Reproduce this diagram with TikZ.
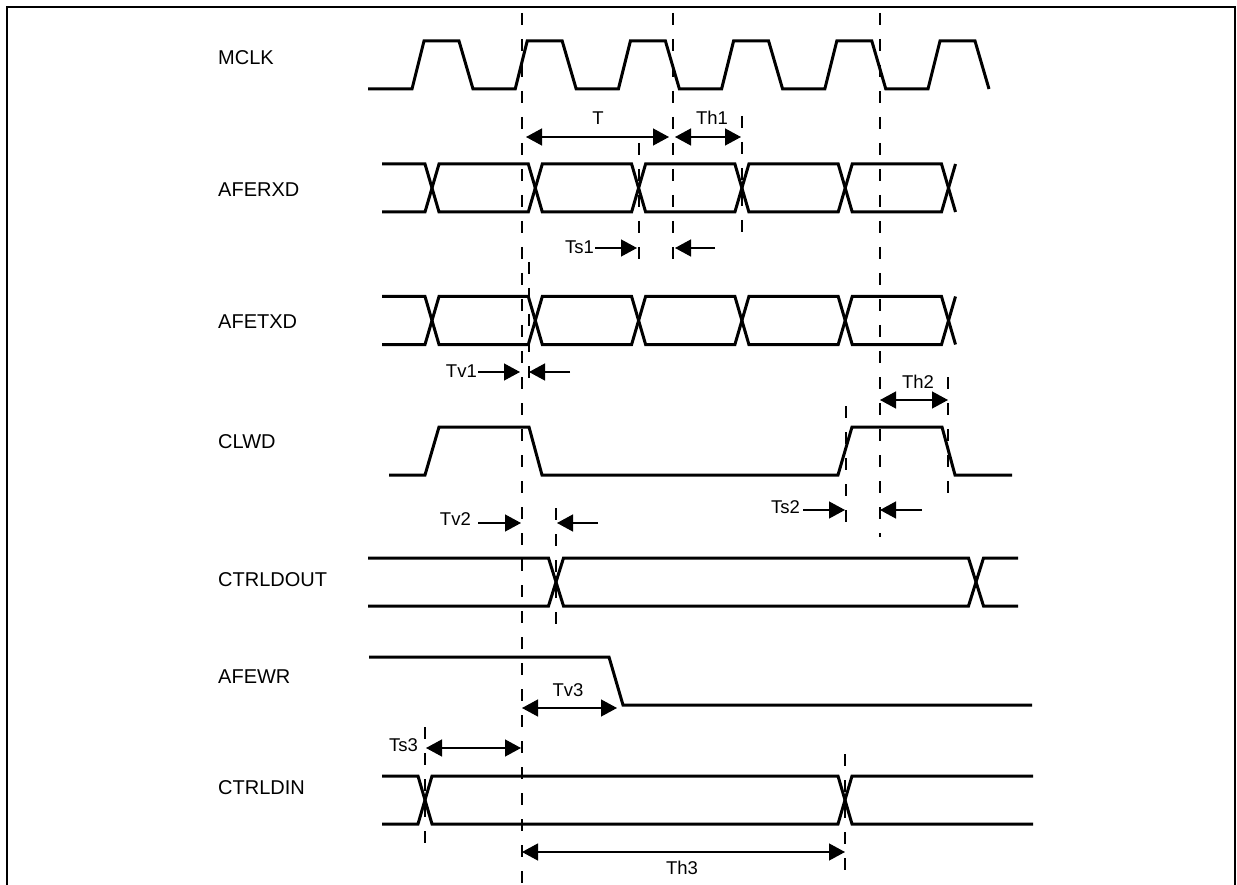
\documentclass[tikz,border=0pt]{standalone}
\usepackage{fontspec}
\setmainfont{Liberation Sans}
\usetikzlibrary{arrows.meta}
\newcommand\drawbusrow[1]{%
  \draw[sig] (382,#1) -- (425,#1) -- (439,{#1+48}) -- (528.3,{#1+48}) -- (542.3,#1) -- (631.6,#1) -- (645.6,{#1+48}) -- (734.9,{#1+48}) -- (748.9,#1) -- (838.2,#1) -- (852.2,{#1+48}) -- (941.5,{#1+48}) -- (955.5,#1);
  \draw[sig] (382,{#1+48}) -- (425,{#1+48}) -- (439,#1) -- (528.3,#1) -- (542.3,{#1+48}) -- (631.6,{#1+48}) -- (645.6,#1) -- (734.9,#1) -- (748.9,{#1+48}) -- (838.2,{#1+48}) -- (852.2,#1) -- (941.5,#1) -- (955.5,{#1+48});
}
\begin{document}
\begin{tikzpicture}[x=1pt,y=-1pt,
  sig/.style={line width=3pt,line join=miter},
  guide/.style={line width=2pt,dash pattern=on 12pt off 14pt},
  dim/.style={line width=1.3pt,-{Triangle[length=16pt,width=17pt]}},
  dimboth/.style={line width=1.3pt,{Triangle[length=16pt,width=17pt]}-{Triangle[length=16pt,width=17pt]}},
  lbl/.style={font=\fontsize{20}{22}\selectfont,anchor=west,inner sep=0pt},
  tlbl/.style={font=\fontsize{18.5}{21}\selectfont,inner sep=0pt},
]
\useasboundingbox (0,0) rectangle (1237,885);
% frame
\draw[line width=2pt] (7,885) -- (7,7) -- (1235,7) -- (1235,885);

% signal names
\node[lbl] (nMCLK) at (218,58) {MCLK};
\node[lbl] (nAFERXD) at (218,190) {AFERXD};
\node[lbl] (nAFETXD) at (218,322) {AFETXD};
\node[lbl] (nCLWD) at (218,442) {CLWD};
\node[lbl] (nCTRLDOUT) at (218,580) {CTRLDOUT};
\node[lbl] (nAFEWR) at (218,677) {AFEWR};
\node[lbl] (nCTRLDIN) at (218,788) {CTRLDIN};

% MCLK
\draw[sig] (368,89) foreach \k in {0,...,5} { -- ({412+103.2*\k},89) -- ({424+103.2*\k},41) -- ({459+103.2*\k},41) -- ({473+103.2*\k},89) };

% AFERXD, AFETXD
\drawbusrow{164}
\drawbusrow{296.5}

% CLWD
\draw[sig] (389,475) -- (425,475) -- (439,427) -- (529,427) -- (542,475) -- (838,475) -- (852,427) -- (942,427) -- (955,475) -- (1012,475);

% CTRLDOUT
\draw[sig] (368,558) -- (548.5,558) -- (563.5,606) -- (968.5,606) -- (983.5,558) -- (1018,558);
\draw[sig] (368,606) -- (548.5,606) -- (563.5,558) -- (968.5,558) -- (983.5,606) -- (1018,606);

% AFEWR
\draw[sig] (369,657) -- (609,657) -- (623,705) -- (1032,705);

% CTRLDIN
\draw[sig] (382,776) -- (418,776) -- (432,824) -- (838,824) -- (852,776) -- (1033,776);
\draw[sig] (382,824) -- (418,824) -- (432,776) -- (838,776) -- (852,824) -- (1033,824);

% long guides
\draw[guide] (522,13) -- (522,885);
\draw[guide] (673,13) -- (673,262);
\draw[guide] (880,13) -- (880,537);
% short guides
\draw[guide] (639,143) -- (639,262);
\draw[guide] (742,116) -- (742,233);
\draw[guide] (529,262) -- (529,390);
\draw[guide] (556,508) -- (556,627);
\draw[guide] (846,406) -- (846,535);
\draw[guide] (948,377) -- (948,495);
\draw[guide] (425,727) -- (425,843);
\draw[guide] (845,754) -- (845,873);

% T
\coordinate (Ta) at (526,137); \coordinate (Tb) at (669,137);
\draw[dimboth] (Ta) -- (Tb);
\node[tlbl] (lT) at (598,118) {T};
% Th1
\coordinate (Th1a) at (675,137); \coordinate (Th1b) at (741,137);
\draw[dimboth] (Th1a) -- (Th1b);
\node[tlbl] (lTh1) at (712,118) {Th1};
% Ts1
\coordinate (Ts1a) at (595,248); \coordinate (Ts1b) at (637,248);
\coordinate (Ts1c) at (715,248); \coordinate (Ts1d) at (675,248);
\draw[dim] (Ts1a) -- (Ts1b);
\draw[dim] (Ts1c) -- (Ts1d);
\node[tlbl,anchor=east] (lTs1) at (594,247) {Ts1};
% Tv1
\coordinate (Tv1a) at (478,372); \coordinate (Tv1b) at (520,372);
\coordinate (Tv1c) at (570,372); \coordinate (Tv1d) at (529,372);
\draw[dim] (Tv1a) -- (Tv1b);
\draw[dim] (Tv1c) -- (Tv1d);
\node[tlbl,anchor=east] (lTv1) at (477,371) {Tv1};
% Th2
\coordinate (Th2a) at (880,400); \coordinate (Th2b) at (948,400);
\draw[dimboth] (Th2a) -- (Th2b);
\node[tlbl] (lTh2) at (918,382) {Th2};
% Tv2
\coordinate (Tv2a) at (478,523); \coordinate (Tv2b) at (521,523);
\coordinate (Tv2c) at (598,523); \coordinate (Tv2d) at (557,523);
\draw[dim] (Tv2a) -- (Tv2b);
\draw[dim] (Tv2c) -- (Tv2d);
\node[tlbl,anchor=east] (lTv2) at (471,519) {Tv2};
% Ts2
\coordinate (Ts2a) at (803,510); \coordinate (Ts2b) at (845,510);
\coordinate (Ts2c) at (922,510); \coordinate (Ts2d) at (880,510);
\draw[dim] (Ts2a) -- (Ts2b);
\draw[dim] (Ts2c) -- (Ts2d);
\node[tlbl,anchor=east] (lTs2) at (800,507) {Ts2};
% Tv3
\coordinate (Tv3a) at (522,708); \coordinate (Tv3b) at (617,708);
\draw[dimboth] (Tv3a) -- (Tv3b);
\node[tlbl] (lTv3) at (568,690) {Tv3};
% Ts3
\coordinate (Ts3a) at (426,748); \coordinate (Ts3b) at (521,748);
\draw[dimboth] (Ts3a) -- (Ts3b);
\node[tlbl,anchor=east] (lTs3) at (418,745) {Ts3};
% Th3
\coordinate (Th3a) at (522,852); \coordinate (Th3b) at (845,852);
\draw[dimboth] (Th3a) -- (Th3b);
\node[tlbl] (lTh3) at (682,868) {Th3};
\end{tikzpicture}
\end{document}
